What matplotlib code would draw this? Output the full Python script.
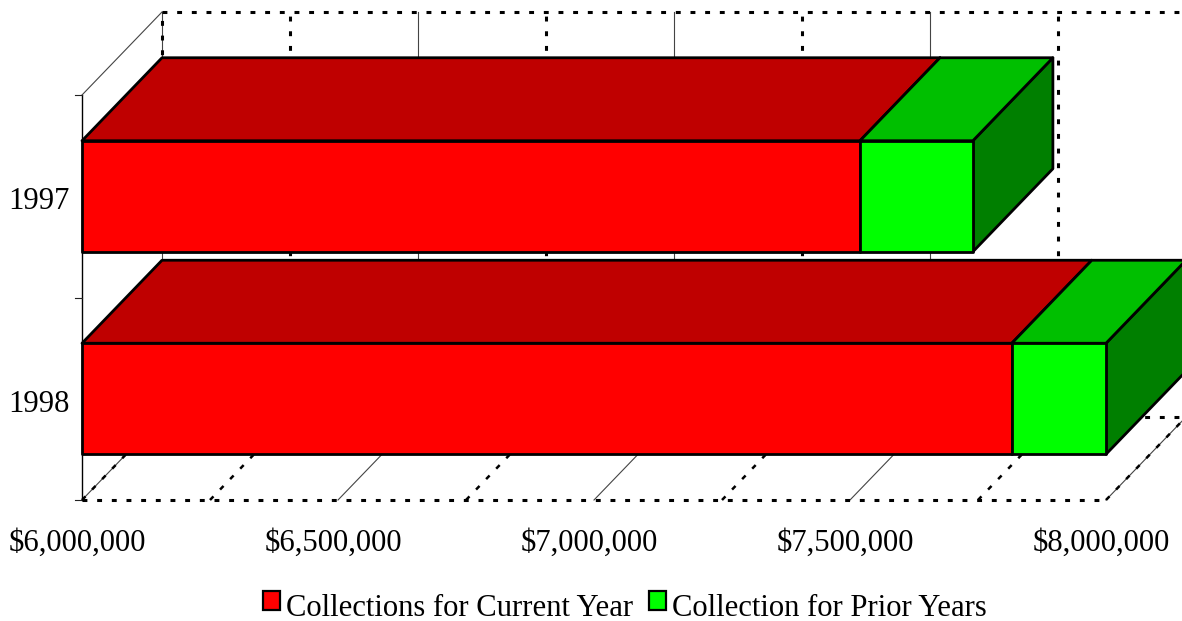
import matplotlib
matplotlib.use("Agg")
import matplotlib.pyplot as plt
from matplotlib.patches import Patch, Polygon

# collections by year, in dollars
years = ["1998", "1997"]
current_year = [7816000, 7519500]
prior_years = [184000, 220500]
series_names = ["Collections for Current Year", "Collection for Prior Years"]
x_ticks = [6000000, 6500000, 7000000, 7500000, 8000000]
x_labels = ["$6,000,000", "$6,500,000", "$7,000,000", "$7,500,000", "$8,000,000"]
minor_ticks = [6000000, 6250000, 6500000, 6750000, 7000000, 7250000, 7500000, 7750000, 8000000]

W, H = 1182, 621
PT = 0.72  # points per pixel at dpi 100
plt.rcParams["font.family"] = "Liberation Serif"
plt.rcParams["font.size"] = 22.1

fig = plt.figure(figsize=(W / 100, H / 100), dpi=100)
ax = fig.add_axes([82 / W, 1 - 500 / H, 1024 / W, 405 / H])
ax.set_xlim(6000000, 8000000)
ax.set_ylim(0, 2)
ax.axis("off")

# depth of the fake 3d box, in data units
DX = 80 / 1024 * 2000000
DY = 83 / 202.5
BAR_H = 111 / 202.5

dots = dict(color="black", lw=2.2, dashes=(1.6, 3.2), dash_capstyle="butt", clip_on=False, zorder=2)
slant_dots = dict(color="black", lw=1.8, dashes=(2.0, 3.8), dash_capstyle="butt", clip_on=False, zorder=2)
thin = dict(color="#444444", lw=0.8, clip_on=False, zorder=1)


def face(pts, color, z):
    ax.add_patch(Polygon(pts, closed=True, facecolor=color, edgecolor="black", lw=2.0,
                         joinstyle="round", clip_on=False, zorder=z))


def box(x0, x1, y0, y1, front, top, side, z):
    face([(x0, y0), (x1, y0), (x1, y1), (x0, y1)], front, z + 0.2)
    face([(x0, y1), (x1, y1), (x1 + DX, y1 + DY), (x0 + DX, y1 + DY)], top, z + 0.1)
    face([(x1, y0), (x1 + DX, y0 + DY), (x1 + DX, y1 + DY), (x1, y1)], side, z)


# gridlines on the back wall and floor, every other one is dotted
for i, v in enumerate(minor_ticks):
    solid = i % 2 == 0
    if solid:
        ax.plot([v + DX, v + DX], [DY, 2 + DY], **thin)
        ax.plot([v, v + DX], [0, DY], **thin)
    if not solid or i == 8:
        ax.plot([v + DX, v + DX], [DY, 2 + DY], **dots)
        ax.plot([v, v + DX], [0, DY], **slant_dots)
# the first wall line only carries dots above the upper bar
ax.plot([6000000 + DX, 6000000 + DX], [1.62, 2 + DY], **dots)
ax.plot([6000000, 6000000 + DX], [0, DY], **slant_dots)
ax.plot([6000000 + DX, 8000000 + DX], [2 + DY, 2 + DY], **dots)
ax.plot([6000000 + DX, 8000000 + DX], [DY, DY], **dots)
ax.plot([6000000, 8000000], [0, 0], **dots)

# left wall and its ticks
ax.plot([6000000, 6000000], [0, 2], color="black", lw=1.0, clip_on=False, zorder=1)
ax.plot([6000000, 6000000 + DX], [2, 2 + DY], **thin)
for y in range(3):
    ax.plot([5986000, 6000000], [y, y], color="#222222", lw=0.8, clip_on=False, zorder=1)

# upper bar goes down first, the lower one overlaps it
for i in [1, 0]:
    y0 = i + 0.5 - BAR_H / 2
    y1 = y0 + BAR_H
    z = 4 + (1 - i) * 2
    box(6000000, current_year[i], y0, y1, "#ff0000", "#bf0000", "#bf0000", z)
    box(current_year[i], current_year[i] + prior_years[i], y0, y1, "#00ff00", "#00bf00", "#007f00", z + 1)

for v, lab in zip(x_ticks, x_labels):
    ax.annotate(lab, (v, 0), xytext=(-4.5 * PT, -51 * PT), textcoords="offset points",
                ha="center", va="baseline", annotation_clip=False)
for i, lab in enumerate(years):
    ax.annotate(lab, (6000000, i + 0.5), xytext=(-12 * PT, -5.5 * PT), textcoords="offset points",
                ha="right", va="center", annotation_clip=False)

handles = [Patch(facecolor="#ff0000", edgecolor="black", lw=1.6),
           Patch(facecolor="#00ff00", edgecolor="black", lw=1.6)]
leg = fig.legend(handles, series_names, ncols=2, frameon=False, loc="center",
                 bbox_to_anchor=(625 / W, 1 - 608 / H), handlelength=0.56, handleheight=0.56,
                 handletextpad=0.2, columnspacing=0.52, borderaxespad=0, borderpad=0)
# lift the swatches a little above the text baseline
for h in leg.legend_handles:
    h.set_y(h.get_y() + 4 * PT)

fig.savefig("out.png", dpi=100)
